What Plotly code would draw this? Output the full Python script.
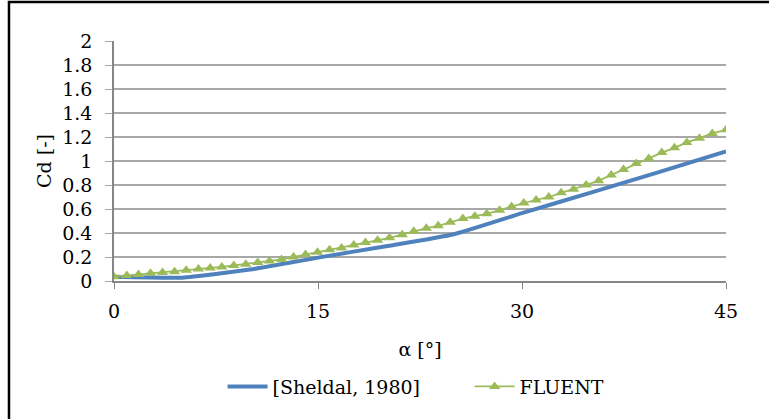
import plotly.graph_objects as go

# Reference measurements (Sheldal, 1980)
sheldal_alpha = [0, 5, 10, 15, 20, 25, 30, 35, 40, 45]
sheldal_cd = [0.035, 0.028, 0.095, 0.195, 0.29, 0.39, 0.565, 0.735, 0.905, 1.08]

# FLUENT simulation results
fluent_alpha = [0.0, 0.94, 1.80, 2.68, 3.57, 4.45, 5.31, 6.21, 7.07, 7.93,
                8.81, 9.69, 10.57, 11.43, 12.32, 13.20, 14.08, 14.96, 15.85, 16.73,
                17.63, 18.49, 19.38, 20.26, 21.19, 22.04, 22.96, 23.84, 24.72, 25.65,
                26.53, 27.41, 28.35, 29.23, 30.13, 31.04, 31.97, 32.88, 33.79, 34.72,
                35.63, 36.56, 37.46, 38.40, 39.32, 40.28, 41.21, 42.12, 43.05, 43.99,
                45.0]
fluent_cd = [0.036, 0.045, 0.055, 0.064, 0.07, 0.078, 0.09, 0.10, 0.108, 0.117,
             0.13, 0.14, 0.155, 0.167, 0.18, 0.20, 0.22, 0.24, 0.26, 0.275,
             0.30, 0.32, 0.34, 0.36, 0.386, 0.415, 0.44, 0.46, 0.49, 0.52,
             0.54, 0.56, 0.59, 0.62, 0.65, 0.675, 0.70, 0.735, 0.764, 0.80,
             0.836, 0.883, 0.93, 0.98, 1.02, 1.07, 1.11, 1.155, 1.19, 1.23,
             1.26]

x_ticks = [0, 15, 30, 45]
y_ticks = [0, 0.2, 0.4, 0.6, 0.8, 1, 1.2, 1.4, 1.6, 1.8, 2]

FONT = "DejaVu Serif"
GRID = "#A8A8A8"

fig = go.Figure()
fig.add_trace(go.Scatter(
    x=sheldal_alpha, y=sheldal_cd, mode="lines", name="[Sheldal, 1980]",
    line=dict(color="#4F81BD", width=4, shape="spline", smoothing=0.45),
))
fig.add_trace(go.Scatter(
    x=fluent_alpha, y=fluent_cd, mode="lines+markers", name="FLUENT",
    line=dict(color="#9BBB59", width=1.8),
    marker=dict(symbol="triangle-up", size=10, color="#9BBB59"),
))

fig.update_layout(
    width=769, height=419,
    margin=dict(l=114, r=43, t=41, b=138),
    paper_bgcolor="white", plot_bgcolor="white",
    font=dict(family=FONT, size=19, color="#000000"),
    showlegend=True,
    legend=dict(orientation="h", x=0.581, xanchor="center", y=-0.44, yanchor="middle",
                font=dict(family=FONT, size=19), itemwidth=40, tracegroupgap=0,
                entrywidth=192),
    xaxis=dict(
        range=[0, 45], tickvals=x_ticks, ticks="outside", ticklen=6,
        tickcolor="#868686", showline=True, linecolor="#868686", linewidth=1.5,
        showgrid=False, zeroline=False,
        title=dict(text="α [°]", standoff=22, font=dict(family=FONT, size=19)),
        tickfont=dict(family=FONT, size=19), ticklabelstandoff=6,
    ),
    yaxis=dict(
        range=[0, 2], tickvals=y_ticks, ticks="outside", ticklen=7,
        tickcolor=GRID, showline=True, linecolor="#868686", linewidth=1.5,
        showgrid=True, gridcolor=GRID, gridwidth=1.5, zeroline=False,
        title=dict(text="Cd [-]", standoff=6, font=dict(family=FONT, size=19)),
        tickfont=dict(family=FONT, size=19), ticklabelstandoff=9,
    ),
    shapes=[
        dict(type="rect", xref="paper", yref="paper",
             x0=-0.1716, x1=1.3, y0=-0.8, y1=1.1625,
             line=dict(color="#000000", width=2.5), layer="below"),
    ],
)

fig.write_html("out.html")
